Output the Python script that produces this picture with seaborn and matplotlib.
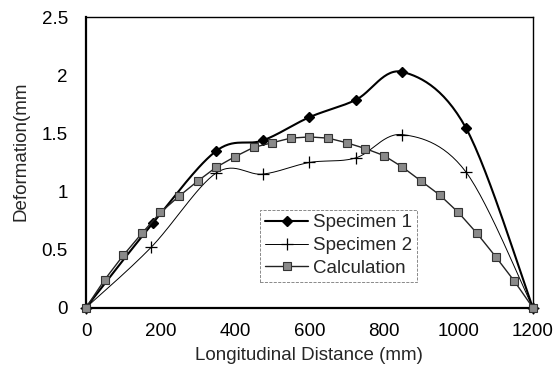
import numpy as np
import matplotlib
matplotlib.use("Agg")
import matplotlib.pyplot as plt
from matplotlib.lines import Line2D
import seaborn as sns

# data
spec1_x = [0, 180, 350, 475, 600, 725, 850, 1020, 1200]
spec1_y = [0, 0.73, 1.35, 1.44, 1.64, 1.79, 2.03, 1.55, 0]

spec2_x = [0, 175, 350, 475, 600, 725, 850, 1020, 1200]
spec2_y = [0, 0.52, 1.16, 1.15, 1.25, 1.29, 1.49, 1.17, 0]

calc_x = [0, 50, 100, 150, 200, 250, 300, 350, 400, 450, 500, 550, 600,
          650, 700, 750, 800, 850, 900, 950, 1000, 1050, 1100, 1150, 1200]
calc_y = [0, 0.24, 0.45, 0.64, 0.82, 0.96, 1.09, 1.21, 1.30, 1.38, 1.42, 1.46, 1.47,
          1.46, 1.42, 1.37, 1.31, 1.21, 1.09, 0.97, 0.82, 0.64, 0.44, 0.23, 0]

x_ticks = [0, 200, 400, 600, 800, 1000, 1200]
y_ticks = [0, 0.5, 1, 1.5, 2, 2.5]
y_ticklabels = ['0', '0.5', '1', '1.5', '2', '2.5']


def smooth(x, y, n=30):
    # Catmull-Rom curve through the points (like Excel's smoothed line)
    p = np.column_stack([x, y]).astype(float)
    p = np.vstack([p[0], p, p[-1]])
    out = []
    t = np.linspace(0, 1, n, endpoint=False)[:, None]
    for i in range(1, len(p) - 2):
        p0, p1, p2, p3 = p[i - 1], p[i], p[i + 1], p[i + 2]
        seg = 0.5 * ((2 * p1) + (-p0 + p2) * t + (2 * p0 - 5 * p1 + 4 * p2 - p3) * t ** 2
                     + (-p0 + 3 * p1 - 3 * p2 + p3) * t ** 3)
        out.append(seg)
    out.append(p[-2][None, :])
    out = np.vstack(out)
    return out[:, 0], out[:, 1]


sns.set_style("white")
plt.rcParams['font.family'] = ['Liberation Sans', 'DejaVu Sans']
FS = 13.5

fig, ax = plt.subplots(figsize=(5.55, 3.77), dpi=100)
fig.subplots_adjust(left=0.155, right=0.960, top=0.954, bottom=0.184)

# Specimen 1: smoothed thick line with diamond markers
sx, sy = smooth(spec1_x, spec1_y)
sns.lineplot(x=sx, y=sy, ax=ax, color='black', linewidth=1.5, sort=False, estimator=None)
ax.plot(spec1_x, spec1_y, linestyle='none', marker='D', markersize=5.5, color='black',
        clip_on=False, zorder=4)

# Specimen 2: smoothed thin line with plus markers
sx, sy = smooth(spec2_x, spec2_y)
sns.lineplot(x=sx, y=sy, ax=ax, color='black', linewidth=0.7, sort=False, estimator=None)
ax.plot(spec2_x, spec2_y, linestyle='none', marker='+', markersize=8, markeredgewidth=0.9,
        color='black', clip_on=False, zorder=4)

# Calculation: straight segments with gray squares
sns.lineplot(x=calc_x, y=calc_y, ax=ax, color='#222222', linewidth=1.0, marker='s',
             markersize=6, markerfacecolor='#8a8a8a', markeredgecolor='#333333',
             markeredgewidth=0.8, sort=False, estimator=None, clip_on=False, zorder=5)

ax.set_xlim(0, 1200)
ax.set_ylim(0, 2.5)
ax.set_xticks(x_ticks)
ax.set_yticks(y_ticks)
ax.set_yticklabels(y_ticklabels)
ax.tick_params(direction='in', length=3, width=0.8, labelsize=FS, colors='black')
ax.tick_params(axis='x', pad=11)
ax.tick_params(axis='y', pad=13)

for side in ['left', 'bottom']:
    ax.spines[side].set_linewidth(1.6)
for side in ['top', 'right']:
    ax.spines[side].set_linewidth(1.0)
for s in ax.spines.values():
    s.set_color('black')
    s.set_visible(True)

ax.set_xlabel('Longitudinal Distance (mm)', fontsize=FS, labelpad=5)
ax.set_ylabel('Deformation(mm', fontsize=FS, labelpad=5)
ax.yaxis.set_label_coords(-0.127, 0.54)

handles = [
    Line2D([], [], color='black', linewidth=1.5, marker='D', markersize=5.5),
    Line2D([], [], color='black', linewidth=0.7, marker='+', markersize=8, markeredgewidth=0.9),
    Line2D([], [], color='#222222', linewidth=1.0, marker='s', markersize=6,
           markerfacecolor='#8a8a8a', markeredgecolor='#333333', markeredgewidth=0.8),
]
leg = ax.legend(handles, ['Specimen 1', 'Specimen 2', 'Calculation'], loc='lower left',
                bbox_to_anchor=(0.39, 0.09), fontsize=FS, frameon=True, fancybox=False,
                handlelength=2.3, handletextpad=0.25, borderpad=0.25, labelspacing=0.3,
                borderaxespad=0)
leg.get_frame().set_edgecolor('#555555')
leg.get_frame().set_linewidth(0.6)
leg.get_frame().set_linestyle('--')

fig.savefig('out.png', dpi=100)
